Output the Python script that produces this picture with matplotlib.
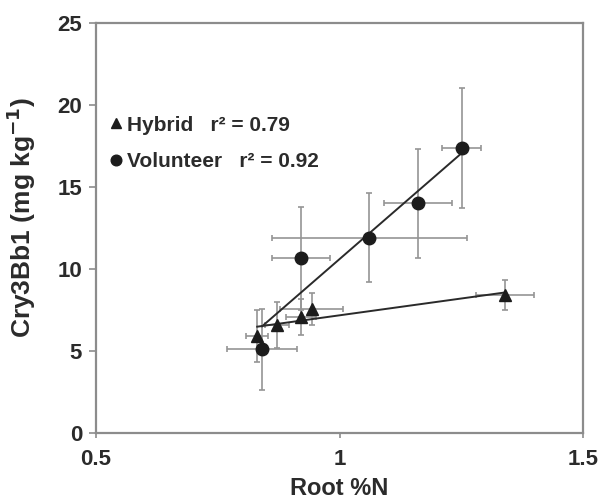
import matplotlib
matplotlib.use("Agg")
import matplotlib.pyplot as plt
import numpy as np

plt.rcParams['font.family'] = ['Liberation Sans', 'DejaVu Sans']
plt.rcParams['font.weight'] = 'bold'
plt.rcParams['mathtext.default'] = 'bf'

# Hybrid plants (triangles)
hyb_x = np.array([0.831, 0.871, 0.921, 0.943, 1.340])
hyb_y = np.array([5.91, 6.59, 7.05, 7.54, 8.41])
hyb_xerr = np.array([0.022, 0.025, 0.03, 0.065, 0.06])
hyb_yerr = np.array([1.6, 1.42, 1.1, 0.98, 0.92])

# Volunteer plants (circles)
vol_x = np.array([0.841, 0.921, 1.061, 1.161, 1.251])
vol_y = np.array([5.12, 10.65, 11.91, 14.0, 17.4])
vol_xerr = np.array([0.071, 0.059, 0.2, 0.07, 0.04])
vol_yerr = np.array([2.47, 3.13, 2.7, 3.3, 3.65])

hyb_label = "Hybrid   r² = 0.79"
vol_label = "Volunteer   r² = 0.92"

ink = "#1c1c1c"
text_col = "#2b2b2b"
bar_grey = "#959595"
axis_grey = "#8c8c8c"

fig = plt.figure(figsize=(5.98, 5.01), dpi=100)
ax = fig.add_axes([0.1605, 0.1357, 0.8145, 0.8183])

for x, y, xe, ye in [(hyb_x, hyb_y, hyb_xerr, hyb_yerr), (vol_x, vol_y, vol_xerr, vol_yerr)]:
    ax.errorbar(x, y, xerr=xe, yerr=ye, fmt='none', ecolor=bar_grey,
                elinewidth=1.2, capsize=2.5, capthick=1.2, zorder=1)

# regression lines over the data range
for x, y in [(hyb_x, hyb_y), (vol_x, vol_y)]:
    k, b = np.polyfit(x, y, 1)
    xs = np.array([x.min(), x.max()])
    ax.plot(xs, k * xs + b, '-', color="#2a2a2a", lw=1.4, zorder=2)

ax.plot(hyb_x, hyb_y, '^', color=ink, ms=8.5, zorder=3, label=hyb_label)
ax.plot(vol_x, vol_y, 'o', color=ink, ms=9, zorder=4, label=vol_label)

ax.set_xlim(0.5, 1.5)
ax.set_ylim(0, 25)
ax.set_xticks([0.5, 1, 1.5])
ax.set_xticklabels(["0.5", "1", "1.5"])
ax.set_yticks([0, 5, 10, 15, 20, 25])

for s in ax.spines.values():
    s.set_color(axis_grey)
    s.set_linewidth(1.6)
ax.tick_params(direction='out', width=1.2, color=axis_grey,
               labelsize=16, labelcolor=text_col)
ax.tick_params(axis='x', length=3.6, pad=8)
ax.tick_params(axis='y', length=5, pad=5)

ax.set_xlabel("Root %N", fontsize=17, fontweight='bold', color=text_col, labelpad=5)
ax.set_ylabel("Cry3Bb1 (mg kg$^{-1}$)", fontsize=19, fontweight='bold', color=text_col)
ax.yaxis.set_label_coords(-0.12, 0.525)

leg = ax.legend(loc='upper left', bbox_to_anchor=(0.0, 0.81), frameon=False,
                handlelength=0.5, handletextpad=0.3, labelspacing=0.85,
                borderaxespad=0.3, prop={'size': 15, 'weight': 'bold'},
                labelcolor=text_col, markerscale=0.85)

plt.savefig("out.png", dpi=100)
